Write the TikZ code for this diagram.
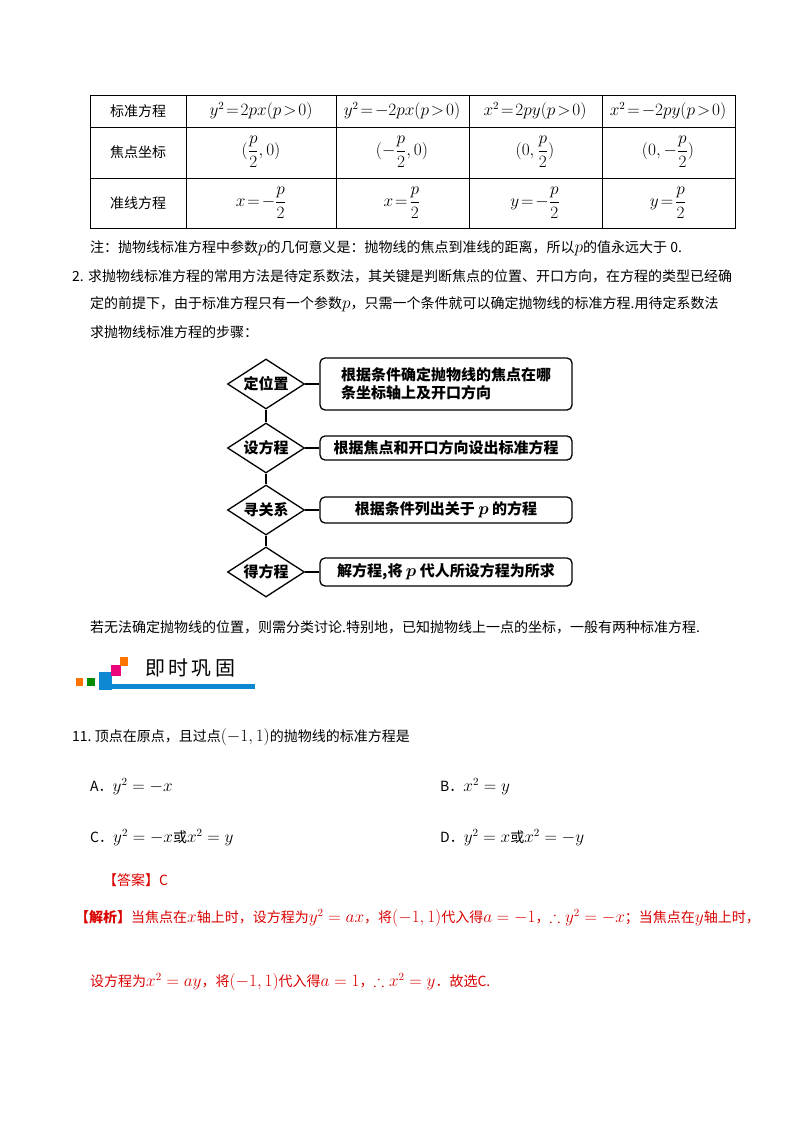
\documentclass[tikz,border=0pt]{standalone}
\usepackage{amsmath,amssymb}
\usepackage{fontspec}
\setmainfont{Noto Sans CJK SC}
\newcommand\M[1]{{\fontsize{16}{18}\selectfont$#1$}}
\newcommand\Mt[1]{{\fontsize{16}{18}\selectfont\thickmuskip=2mu\medmuskip=1mu$#1$}}
\usetikzlibrary{shapes.geometric}
\begin{document}
\begin{tikzpicture}[x=1pt,y=-1pt,
 txt/.style={anchor=west,inner sep=0pt,font=\fontsize{14}{16}\selectfont},
 red/.style={txt,text=red!85!black},
 cell/.style={inner sep=0pt,font=\fontsize{14}{16}\selectfont},
 dia/.style={diamond,draw,line width=1.3pt,minimum width=77pt,minimum height=50pt,inner sep=0pt,font=\fontsize{15}{17}\selectfont\bfseries,aspect=1.5},
 bx/.style={draw,line width=1.3pt,rounded corners=5pt,minimum width=252pt,inner sep=0pt,font=\fontsize{15}{18}\selectfont\bfseries},
 ln/.style={line width=1.3pt}]
\useasboundingbox (0,0) rectangle (800,1132);
% table
\draw[line width=0.6pt] (90,95) rectangle (735,228);
\foreach \y in {127,178} \draw[line width=0.6pt] (90,\y)--(735,\y);
\foreach \x in {186,336,469,602} \draw[line width=0.6pt] (\x,95)--(\x,228);
\node[cell] (h0) at (138,111) {标准方程};
\node[cell] (h1) at (261,111) {\Mt{y^2=2px(p>0)}};
\node[cell] (h2) at (402,111) {\Mt{y^2=-2px(p>0)}};
\node[cell] (h3) at (535,111) {\Mt{x^2=2py(p>0)}};
\node[cell] (h4) at (668,111) {\Mt{x^2=-2py(p>0)}};
\node[cell] (f0) at (138,152) {焦点坐标};
\node[cell] (f1) at (261,152) {\Mt{(\dfrac{p}{2},0)}};
\node[cell] (f2) at (402,152) {\Mt{(-\dfrac{p}{2},0)}};
\node[cell] (f3) at (535,152) {\Mt{(0,\dfrac{p}{2})}};
\node[cell] (f4) at (668,152) {\Mt{(0,-\dfrac{p}{2})}};
\node[cell] (d0) at (138,203) {准线方程};
\node[cell] (d1) at (261,203) {\Mt{x=-\dfrac{p}{2}}};
\node[cell] (d2) at (402,203) {\Mt{x=\dfrac{p}{2}}};
\node[cell] (d3) at (535,203) {\Mt{y=-\dfrac{p}{2}}};
\node[cell] (d4) at (668,203) {\Mt{y=\dfrac{p}{2}}};
\node[txt] (note) at (90,248) {注：抛物线标准方程中参数\M{p}的几何意义是：抛物线的焦点到准线的距离，所以\M{p}的值永远大于 0.};
\node[txt] (p2a) at (72,276) {2. 求抛物线标准方程的常用方法是待定系数法，其关键是判断焦点的位置、开口方向，在方程的类型已经确};
\node[txt] (p2b) at (90,304) {定的前提下，由于标准方程只有一个参数\M{p}，只需一个条件就可以确定抛物线的标准方程.用待定系数法};
\node[txt] (p2c) at (90,332) {求抛物线标准方程的步骤：};
% flowchart
\node[dia] (s1) at (266,384) {定位置};
\node[dia] (s2) at (266,448) {设方程};
\node[dia] (s3) at (266,510) {寻关系};
\node[dia] (s4) at (266,572) {得方程};
\node[bx,minimum height=52pt,align=left] (b1) at (446,384) {根据条件确定抛物线的焦点在哪\\条坐标轴上及开口方向};
\node[bx,minimum height=24pt] (b2) at (446,448) {根据焦点和开口方向设出标准方程};
\node[bx,minimum height=26pt] (b3) at (446,510) {根据条件列出关于 \M{\boldsymbol{p}} 的方程};
\node[bx,minimum height=28pt] (b4) at (446,572) {解方程,将 \M{\boldsymbol{p}} 代人所设方程为所求};
\draw[ln] (s1)--(s2); \draw[ln] (s2)--(s3); \draw[ln] (s3)--(s4);
\foreach \i in {1,2,3,4} \draw[ln] (s\i.east)--(b\i.west);
\node[txt] (rem) at (90,627) {若无法确定抛物线的位置，则需分类讨论.特别地，已知抛物线上一点的坐标，一般有两种标准方程.};
% banner
\fill[orange!90!red] (76,678) rectangle (83,686);
\fill[green!55!black] (87,678) rectangle (95,686);
\fill[cyan!70!blue] (99,672) rectangle (112,690);
\fill[cyan!70!blue] (99,684) rectangle (255,689);
\fill[magenta!85!red] (111,665) rectangle (121,676);
\fill[orange!90!red] (120,657) rectangle (128,666);
\node[inner sep=0pt,font=\fontsize{20}{22}\selectfont] (ban) at (190,668) {即\,时\,巩\,固};
% question
\node[txt] (q) at (72,737) {11.\ 顶点在原点，且过点\M{(-1,1)}的抛物线的标准方程是};
\node[txt] (qa) at (90,787) {A．\M{y^2=-x}};
\node[txt] (qb) at (440,787) {B．\M{x^2=y}};
\node[txt] (qc) at (90,838) {C．\M{y^2=-x}或\M{x^2=y}};
\node[txt] (qd) at (440,838) {D．\M{y^2=x}或\M{x^2=-y}};
\node[red] (ans) at (103,880) {【答案】C};
\node[red] (ex1) at (75,918) {\textbf{【解析】}当焦点在\M{x}轴上时，设方程为\M{y^2=ax}，将\M{(-1,1)}代入得\M{a=-1}，\M{\therefore y^2=-x}；当焦点在\M{y}轴上时，};
\node[red] (ex2) at (90,982) {设方程为\M{x^2=ay}，将\M{(-1,1)}代入得\M{a=1}，\M{\therefore x^2=y}．故选C.};
\end{tikzpicture}
\end{document}
